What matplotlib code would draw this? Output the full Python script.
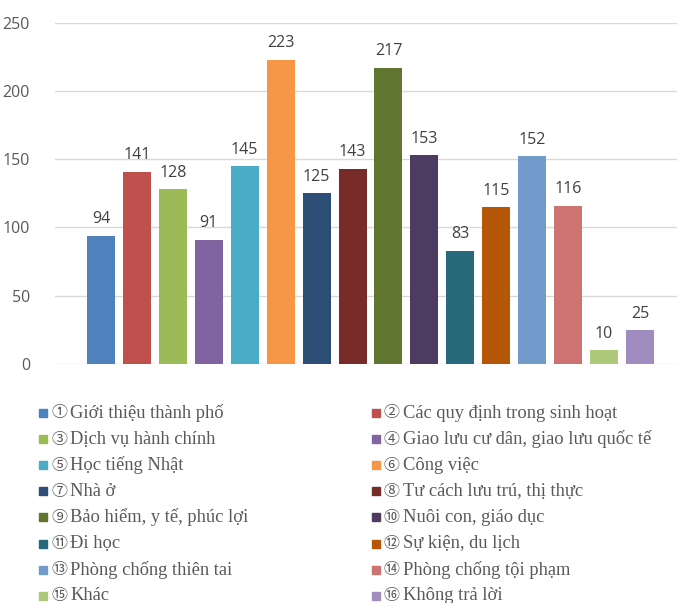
import matplotlib.pyplot as plt
from matplotlib.patches import Rectangle

categories = [
    "Giới thiệu thành phố",
    "Các quy định trong sinh hoạt",
    "Dịch vụ hành chính",
    "Giao lưu cư dân, giao lưu quốc tế",
    "Học tiếng Nhật",
    "Công việc",
    "Nhà ở",
    "Tư cách lưu trú, thị thực",
    "Bảo hiểm, y tế, phúc lợi",
    "Nuôi con, giáo dục",
    "Đi học",
    "Sự kiện, du lịch",
    "Phòng chống thiên tai",
    "Phòng chống tội phạm",
    "Khác",
    "Không trả lời",
]
counts = [94, 141, 128, 91, 145, 223, 125, 143, 217, 153, 83, 115, 152, 116, 10, 25]
colors = [
    "#4F81BD", "#C0504D", "#9BBB59", "#8064A2", "#4BACC6", "#F79646",
    "#2C4D75", "#772C2A", "#5F7530", "#4D3B62", "#276A7C", "#B65708",
    "#729ACA", "#CD7371", "#AFC97A", "#A08CBF",
]

W, H = 677, 603
fig = plt.figure(figsize=(W / 100, H / 100), dpi=100)
ax = fig.add_axes([55 / W, 1 - 364 / H, 1 - 55 / W, (364 - 22.7) / H])

x = list(range(len(counts)))
bars = ax.bar(x, counts, width=0.78, color=colors, zorder=2)
ax.bar_label(bars, labels=[str(v) for v in counts], padding=6,
             fontsize=11.5, color="#404040", family="Open Sans")

ax.set_xlim(-1.28, len(counts) - 1 + 1.03)
ax.set_ylim(0, 250)
ax.set_yticks(range(0, 251, 50))
ax.set_xticks([])
ax.grid(axis="y", color="#d9d9d9", linewidth=1, zorder=0)
ax.tick_params(axis="y", length=0, pad=18, labelsize=11.5, labelcolor="#595959")
for t in ax.get_yticklabels():
    t.set_family("Open Sans")
for s in ax.spines.values():
    s.set_visible(False)

# two-column legend, filled row by row
for i, (name, c) in enumerate(zip(categories, colors)):
    col, row = i % 2, i // 2
    px = 39 if col == 0 else 372
    py = 413 + row * 26.1
    fig.patches.append(Rectangle((px / W, 1 - (py + 4) / H), 8 / W, 8 / H,
                                 transform=fig.transFigure, color=c))
    fig.text((px + 12) / W, 1 - py / H, chr(0x2460 + i),
             family=["Noto Sans CJK JP", "DejaVu Sans"], fontsize=11.5,
             color="#595959", va="center", ha="left")
    fig.text((px + 31) / W, 1 - py / H, name,
             family=["Liberation Serif", "DejaVu Sans"], fontsize=13.3,
             color="#595959", va="center", ha="left")

fig.savefig("out.png", dpi=100)
